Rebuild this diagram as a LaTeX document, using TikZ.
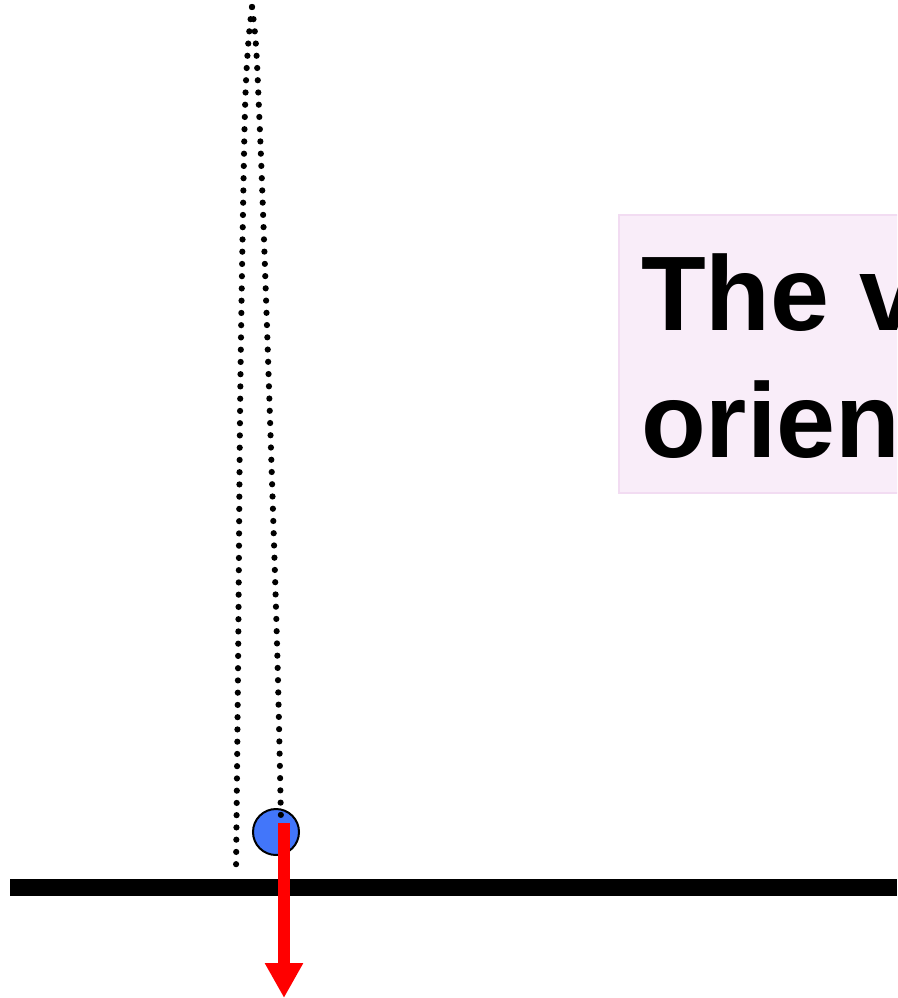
\documentclass[tikz,border=0pt]{standalone}
\usepackage{fontspec}
\setmainfont{Liberation Sans}
\usetikzlibrary{arrows.meta}
\definecolor{ballblue}{RGB}{66,118,250}
\definecolor{boxpink}{RGB}{249,237,249}
\definecolor{boxedge}{RGB}{242,220,242}
\tikzset{
  dotline/.style={line width=6.2pt, line cap=round, dash pattern=on 0pt off 12.25pt},
  ground/.style={line width=17pt},
  ball/.style={circle, draw=black, line width=2pt, fill=ballblue, minimum size=46pt, inner sep=0pt},
  force/.style={red, line width=12pt, -{Triangle[width=36pt,length=35pt]}},
  bigtext/.style={font=\bfseries\fontsize{106}{127}\selectfont, inner sep=0pt, anchor=base west}
}
\begin{document}
\begin{tikzpicture}[x=1pt,y=-1pt]
\useasboundingbox (0,0) rectangle (897,998);
\clip (0,0) rectangle (897,998);
\fill[white] (0,0) rectangle (897,998);
% text box
\draw[fill=boxpink, draw=boxedge, line width=1.2pt] (619,215) rectangle (920,493);
\node[bigtext] (t1) at (641,330) {The v};
\node[bigtext] (t2) at (641,457) {orien};
% ground
\coordinate (gl) at (10,887);
\coordinate (gr) at (897,887);
\draw[ground] (gl) -- (gr);
% ball
\node[ball] (b) at (276,832) {};
% dotted strings
\coordinate (top) at (252,7);
\coordinate (le) at (236,871);
\coordinate (re) at (281,823);
\draw[dotline] plot[smooth, tension=0.6] coordinates {(252,7) (248.3,43) (245.3,100) (243.2,200) (240.2,400) (238.2,650) (236,871)};
\draw[dotline] plot[smooth, tension=0.6] coordinates {(252,7) (255.8,43) (258.6,100) (262.6,200) (269.4,400) (277.2,650) (281,823)};
% force arrow
\coordinate (fs) at (284,823);
\coordinate (fe) at (284,998);
\draw[force] (fs) -- (fe);
\end{tikzpicture}
\end{document}
